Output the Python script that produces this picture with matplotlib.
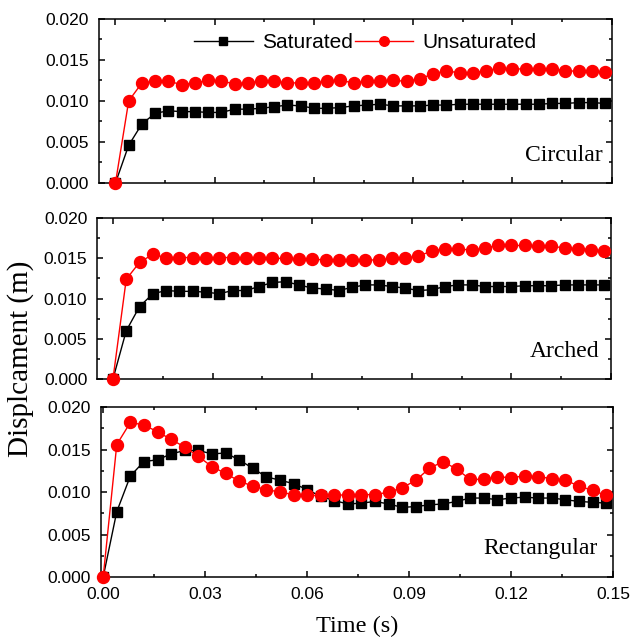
import numpy as np
import matplotlib
matplotlib.use('Agg')
import matplotlib.pyplot as plt
from matplotlib.ticker import MultipleLocator, FormatStrFormatter

# time steps (s)
time = np.arange(38) * 0.004

# Circular tunnel
circ_sat = [0.0, 0.0046, 0.0072, 0.0085, 0.0088, 0.0087, 0.0087, 0.0086, 0.0086, 0.0090,
            0.0090, 0.0091, 0.0093, 0.0095, 0.0094, 0.0091, 0.0091, 0.0092, 0.0094, 0.0095,
            0.0096, 0.0094, 0.0094, 0.0094, 0.0095, 0.0095, 0.0096, 0.0096, 0.0096, 0.0096,
            0.0096, 0.0096, 0.0096, 0.0097, 0.0097, 0.0098, 0.0098, 0.0097]
circ_unsat = [0.0, 0.0100, 0.0122, 0.0124, 0.0124, 0.0120, 0.0122, 0.0125, 0.0124, 0.0121,
              0.0122, 0.0124, 0.0124, 0.0122, 0.0122, 0.0122, 0.0124, 0.0125, 0.0122, 0.0124,
              0.0124, 0.0125, 0.0124, 0.0127, 0.0133, 0.0137, 0.0134, 0.0134, 0.0137, 0.0140,
              0.0139, 0.0139, 0.0139, 0.0139, 0.0137, 0.0136, 0.0136, 0.0135]

# Arched tunnel
arch_sat = [0.0, 0.0060, 0.0090, 0.0106, 0.0110, 0.0109, 0.0109, 0.0108, 0.0106, 0.0110,
            0.0110, 0.0115, 0.0120, 0.0121, 0.0117, 0.0113, 0.0112, 0.0110, 0.0114, 0.0117,
            0.0117, 0.0115, 0.0113, 0.0110, 0.0111, 0.0115, 0.0117, 0.0117, 0.0115, 0.0115,
            0.0115, 0.0116, 0.0116, 0.0116, 0.0117, 0.0117, 0.0117, 0.0117]
arch_unsat = [0.0, 0.0124, 0.0145, 0.0155, 0.0151, 0.0151, 0.0151, 0.0150, 0.0151, 0.0151,
              0.0150, 0.0151, 0.0150, 0.0150, 0.0149, 0.0149, 0.0148, 0.0148, 0.0148, 0.0148,
              0.0148, 0.0150, 0.0150, 0.0153, 0.0159, 0.0162, 0.0162, 0.0160, 0.0163, 0.0166,
              0.0166, 0.0166, 0.0165, 0.0165, 0.0163, 0.0162, 0.0161, 0.0159]

# Rectangular tunnel
rect_sat = [0.0, 0.0077, 0.0119, 0.0136, 0.0138, 0.0145, 0.0149, 0.0149, 0.0145, 0.0146,
            0.0138, 0.0128, 0.0118, 0.0114, 0.0110, 0.0103, 0.0095, 0.0090, 0.0086, 0.0087,
            0.0089, 0.0086, 0.0082, 0.0083, 0.0085, 0.0086, 0.0089, 0.0093, 0.0093, 0.0091,
            0.0093, 0.0094, 0.0093, 0.0093, 0.0091, 0.0089, 0.0088, 0.0087]
rect_unsat = [0.0, 0.0156, 0.0182, 0.0179, 0.0171, 0.0162, 0.0153, 0.0142, 0.0130, 0.0122,
              0.0113, 0.0107, 0.0103, 0.0100, 0.0097, 0.0096, 0.0096, 0.0096, 0.0097, 0.0097,
              0.0097, 0.0100, 0.0105, 0.0114, 0.0128, 0.0136, 0.0127, 0.0115, 0.0115, 0.0118,
              0.0117, 0.0119, 0.0118, 0.0116, 0.0114, 0.0107, 0.0102, 0.0096]

names = ['Circular', 'Arched', 'Rectangular']
sat_series = [circ_sat, arch_sat, rect_sat]
unsat_series = [circ_unsat, arch_unsat, rect_unsat]

sans = ['Liberation Sans', 'DejaVu Sans']
serif = ['Liberation Serif', 'DejaVu Serif']
plt.rcParams['font.family'] = sans

fig = plt.figure(figsize=(6.3, 6.41), dpi=100)

boxes = [[0.157, 0.7145, 0.814, 0.256],
         [0.154, 0.4087, 0.816, 0.251],
         [0.160, 0.0998, 0.813, 0.265]]
xmins = [-0.005, -0.0048, -0.0007]
text_x = [0.982, 0.977, 0.97]

for i in range(3):
    ax = fig.add_axes(boxes[i])
    ax.plot(time, sat_series[i], '-s', color='black', lw=1.0, ms=7.2,
            mec='black', mfc='black', label='Saturated', zorder=3)
    ax.plot(time, unsat_series[i], '-o', color='red', lw=1.0, ms=8.6,
            mec='red', mfc='red', label='Unsaturated', zorder=4, clip_on=False)
    ax.set_xlim(xmins[i], 0.15)
    ax.set_ylim(0, 0.020)
    ax.xaxis.set_major_locator(MultipleLocator(0.03))
    ax.xaxis.set_minor_locator(MultipleLocator(0.015))
    ax.yaxis.set_major_locator(MultipleLocator(0.005))
    ax.yaxis.set_minor_locator(MultipleLocator(0.0025))
    ax.yaxis.set_major_formatter(FormatStrFormatter('%.3f'))
    ax.xaxis.set_major_formatter(FormatStrFormatter('%.2f'))
    ax.tick_params(which='both', direction='in', top=True, right=True, width=1.1)
    ax.tick_params(which='major', length=4.5, labelsize=12.5, pad=7)
    ax.tick_params(which='minor', length=2.5)
    for sp in ax.spines.values():
        sp.set_linewidth(1.1)
    if i < 2:
        ax.tick_params(axis='x', labelbottom=False)
    ax.text(text_x[i], 0.17, names[i], transform=ax.transAxes, ha='right', va='center',
            fontsize=17, family=serif)
    if i == 0:
        ax.legend(loc='center', bbox_to_anchor=(0.52, 0.854), ncol=2, frameon=False,
                  fontsize=15, handlelength=2.8, handletextpad=0.45, columnspacing=0.1,
                  markerscale=0.8, borderpad=0)
    if i == 2:
        ax.set_xlabel('Time (s)', fontsize=17.5, family=serif, labelpad=10)

# shared y label, centred on the whole stack
fig.text(0.032, 0.44, 'Displcament (m)', rotation=90, ha='center', va='center',
         fontsize=21, family=serif)

plt.savefig('out.png', dpi=100)
